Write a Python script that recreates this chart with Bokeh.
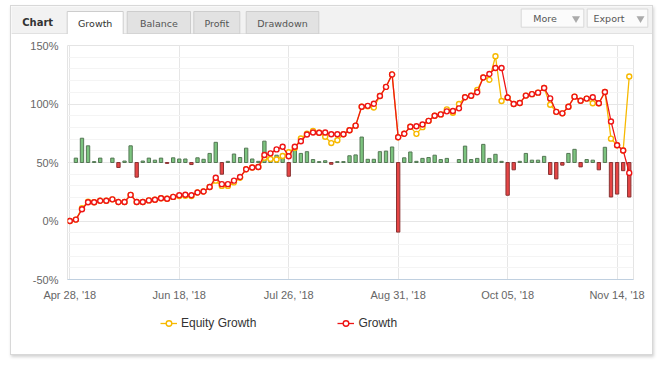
from bokeh.plotting import figure
from bokeh.models import (Range1d, FixedTicker, PrintfTickFormatter, ColumnDataSource,
                          Legend, LegendItem)
from bokeh.layouts import column, row
from bokeh.embed import file_html
from bokeh.resources import INLINE
from bokeh.core.properties import value

# ---------------- data ----------------
tab_labels = ["Growth", "Balance", "Profit", "Drawdown"]
button_labels = ["More", "Export"]
series_names = ["Equity Growth", "Growth"]
tick_positions = [0, 18, 36, 54, 72, 90]
tick_labels = ["Apr 28, '18", "Jun 18, '18", "Jul 26, '18", "Aug 31, '18", "Oct 05, '18", "Nov 14, '18"]
y_ticks = [-50, 0, 50, 100, 150]

growth = [0, 1.2, 10, 16, 16, 17.3, 17.3, 18.5, 16.2, 16.2,
          22.3, 16.2, 16.2, 17.6, 18.2, 19.5, 19, 20.6, 22, 22.5,
          22, 24.3, 25.2, 29, 37, 31.5, 31.5, 34.5, 37.6, 44.2,
          45.7, 46.2, 56.4, 57.8, 61.2, 63.4, 55.4, 63.5, 68.2, 73.9,
          75.6, 75.4, 75.6, 74.2, 74.2, 74.2, 77.6, 81.5, 97.6, 98.4,
          100.2, 106.8, 114.6, 125.3, 71.6, 74.6, 80.5, 81, 82.5, 85.6,
          89.9, 91.1, 93.7, 94, 96.3, 105.8, 107, 110, 122.7, 125.6,
          130.8, 130.8, 105.5, 100, 100.9, 107.2, 108.4, 109.7, 113.7, 104.8,
          93.3, 92, 97.7, 106.3, 102.8, 104.6, 105.8, 100.6, 110.3, 85.1,
          64.7, 60.3, 41.1]

equity = [0, 1.2, 11, 16.5, 16, 17.3, 17.3, 18.5, 16.2, 16.2,
          22.3, 16.2, 16.2, 17.6, 18.2, 19.5, 19, 20.6, 21.3, 21.5,
          21.3, 24.3, 25.2, 29, 34.5, 30, 30, 33, 37, 44.2,
          45.7, 46.2, 54, 53, 52.6, 55.5, 58.8, 62.5, 70.5, 74.7,
          77, 75.4, 72, 66.6, 69, 74.2, 77.6, 81.5, 97.6, 98,
          97, 106.8, 114.6, 125.3, 71.6, 74.6, 80.5, 74.5, 80.2, 85.6,
          89.9, 91.1, 95.4, 92.5, 100, 105.8, 107, 112, 122.7, 120.7,
          140.8, 102.6, 105.5, 100, 100.9, 107.2, 108.4, 109.7, 113.7, 99.4,
          93.3, 92, 97.7, 106.3, 102.8, 104.6, 100.6, 100.6, 110.3, 70.4,
          64.7, 60.3, 123.5]

daily = [0, 1.5, 8.3, 5.7, 0.3, 1.5, 0, 1.5, -1.7, 0.5,
         5.7, -5.0, 0.5, 1.5, 0.8, 1.5, -0.3, 1.6, 1.2, 1.2,
         -0.7, 1.6, 1.1, 3.1, 6.9, -4.0, 0.4, 2.9, 1.7, 4.9,
         1.2, 0.4, 7.3, 1.1, 2.5, 1.7, -4.7, 4.8, 3.1, 3.7,
         1.0, 0.3, 0.6, -0.6, 0.3, 0.3, 2.3, 2.6, 8.7, 1.1,
         1.1, 3.7, 3.9, 5.3, -23.8, 1.6, 3.6, 0.4, 1.4, 1.7,
         2.5, 1.0, 1.4, 0, 1.0, 5.6, 1.0, 1.4, 6.2, 1.4,
         2.8, 0.4, -11.2, -2.5, 0.4, 3.1, 0.8, 0.8, 2.1, -4.1,
         -5.6, -0.9, 3.1, 4.5, -1.5, 1.0, 0.8, -2.5, 5.2, -11.8,
         -10.8, -2.8, -11.8]

idx = list(range(len(growth)))

W = 641
HH = 28
BL, BR = 56, 19
FONT = "Liberation Sans"
UI_FONT = "DejaVu Sans"
EQ = "#f7b900"
GR = "#ee1515"

# ---------------- header (tabs / buttons) ----------------
hdr = figure(width=W, height=HH, x_range=Range1d(0, W), y_range=Range1d(HH, 0),
             x_axis_type=None, y_axis_type=None, output_backend="svg",
             toolbar_location=None, min_border=0,
             background_fill_color="#f2f2f2", border_fill_color="#f2f2f2",
             outline_line_color=None)

tab_l = [55.7, 115.7, 182.3, 234.7]
tab_r = [111.7, 179.0, 228.3, 307.3]
TT = 5
TB = HH - 0.5
hdr.quad(left=tab_l[1:], right=tab_r[1:], top=TT, bottom=TB,
         fill_color="#e2e2e2", line_color="#cdcdcd", line_width=1)
hdr.segment(x0=[0, tab_r[0]], y0=[TB, TB], x1=[tab_l[0], W], y1=[TB, TB],
            line_color="#d0d0d0", line_width=1)
hdr.quad(left=[tab_l[0]], right=[tab_r[0]], top=TT, bottom=HH,
         fill_color="white", line_color=None)
hdr.multi_line(xs=[[tab_l[0], tab_l[0], tab_r[0], tab_r[0]]],
               ys=[[HH, TT, TT, HH]], line_color="#cdcdcd", line_width=1)
hdr.text(x=[(a + b) / 2 for a, b in zip(tab_l, tab_r)], y=[16.5] * 4, text=tab_labels,
         text_align="center", text_baseline="middle",
         text_font=value(UI_FONT), text_font_size=value("9.5px"),
         text_color=["#333333", "#555555", "#555555", "#555555"])
hdr.text(x=[10.7], y=[15.5], text=["Chart"], text_align="left", text_baseline="middle",
         text_font=value(UI_FONT), text_font_size=value("10px"),
         text_font_style="bold", text_color="#333333")
hdr.quad(left=[509.7, 575.7], right=[572.3, 636.3], top=2.5, bottom=20.7,
         fill_color="#fbfbfb", line_color="#d8d8d8", line_width=1)
hdr.text(x=[521.7, 582.0], y=[12, 12], text=button_labels, text_align="left",
         text_baseline="middle", text_font=value(UI_FONT),
         text_font_size=value("9.5px"), text_color="#555555")
hdr.scatter(x=[564.5, 629.0], y=[12, 12], marker="inverted_triangle", size=8,
            fill_color="#aaaaaa", line_color=None)

# ---------------- main chart ----------------
p = figure(width=W, height=271, x_range=Range1d(-0.38, 92.7), y_range=Range1d(-50, 150),
           output_backend="svg", toolbar_location=None,
           min_border_left=BL, min_border_right=BR, min_border_top=11, min_border_bottom=26,
           background_fill_color="white", border_fill_color="white",
           outline_line_color="#e4e4e4")
p.extra_y_ranges = {"daily": Range1d(-40, 40)}

p.xaxis.ticker = FixedTicker(ticks=tick_positions)
p.xaxis.major_label_overrides = dict(zip(tick_positions, tick_labels))
p.xaxis.axis_line_color = "#c0d0e0"
p.xaxis.major_tick_line_color = None
p.xaxis.minor_tick_line_color = None
p.xaxis.major_tick_out = 0
p.xaxis.major_label_standoff = 9

p.yaxis.ticker = FixedTicker(ticks=y_ticks, minor_ticks=list(range(-50, 151, 10)))
p.yaxis.formatter = PrintfTickFormatter(format="%d%%")
p.yaxis.axis_line_color = None
p.yaxis.major_tick_line_color = None
p.yaxis.minor_tick_line_color = None
p.yaxis.major_tick_out = 0
p.yaxis.major_label_standoff = 5

for ax in (p.xaxis[0], p.yaxis[0]):
    ax.major_label_text_font = FONT
    ax.major_label_text_font_size = "11px"
    ax.major_label_text_color = "#666666"

p.xgrid.grid_line_color = "#e6e6e6"
p.ygrid.grid_line_color = "#e6e6e6"
p.ygrid.minor_grid_line_color = "#f4f4f4"

bar_x = [i for i, d in zip(idx, daily) if d != 0]
bar_v = [d for d in daily if d != 0]
bar_src = ColumnDataSource(dict(
    x=bar_x, top=bar_v,
    fill=["#7cc47f" if v > 0 else "#e64545" for v in bar_v],
    edge=["#557755" if v > 0 else "#8a3333" for v in bar_v]))
p.vbar(x="x", top="top", bottom=0, width=0.55, source=bar_src, y_range_name="daily",
       fill_color="fill", line_color="edge", line_width=1)

p.line(idx, equity, line_color=EQ, line_width=1.3)
p.scatter(idx, equity, size=5, line_color=EQ, fill_color="white", line_width=1.4)
p.line(idx, growth, line_color=GR, line_width=1.3)
p.scatter(idx, growth, size=5, line_color=GR, fill_color="white", line_width=1.4)

# ---------------- legend strip (frame aligned with the chart's frame) ----------------
LH = 49
lf = figure(width=W, height=LH, x_range=Range1d(0, 1), y_range=Range1d(0, 1),
            x_axis_type=None, y_axis_type=None, output_backend="svg",
            toolbar_location=None, min_border_left=BL, min_border_right=BR,
            min_border_top=0, min_border_bottom=0, outline_line_color=None,
            background_fill_color="white", border_fill_color="white")
le_l = lf.line([-5, -4], [-5, -4], line_color=EQ, line_width=1.3)
le_s = lf.scatter([-5], [-5], size=5, line_color=EQ, fill_color="white", line_width=1.4)
lg_l = lf.line([-5, -4], [-5, -4], line_color=GR, line_width=1.3)
lg_s = lf.scatter([-5], [-5], size=5, line_color=GR, fill_color="white", line_width=1.4)

legend = Legend(items=[LegendItem(label=series_names[0], renderers=[le_l, le_s]),
                       LegendItem(label=series_names[1], renderers=[lg_l, lg_s])],
                orientation="horizontal", location=(93, 24),
                border_line_color=None, background_fill_alpha=0,
                label_text_font=FONT, label_text_font_size="12px",
                label_text_color="#333333", glyph_width=17, glyph_height=14,
                label_height=14, label_standoff=4, spacing=81, padding=0, margin=0)
lf.add_layout(legend)

layout = column(row(hdr), p, lf, spacing=0,
                styles={"border": "1px solid #d8d8d8", "margin-left": "10px",
                        "margin-top": "5px",
                        "box-shadow": "1px 2px 3px rgba(0,0,0,0.18)"})

open("out.html", "w").write(file_html(layout, INLINE))
